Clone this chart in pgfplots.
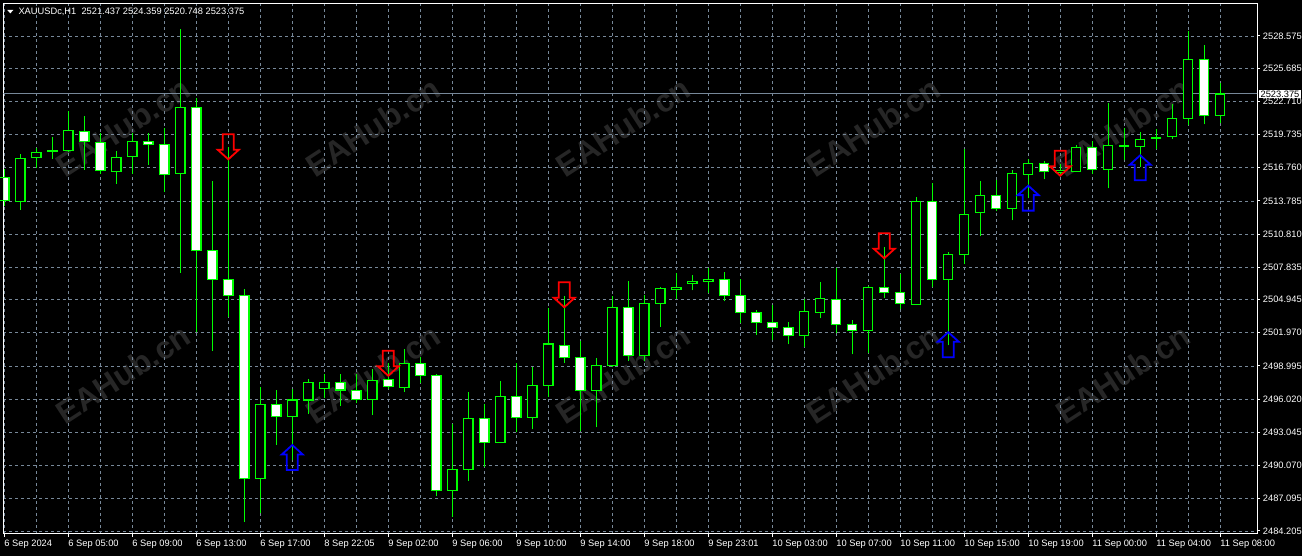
\documentclass[border=0pt]{standalone}
\usepackage{fontspec}
\setmainfont{Liberation Sans}
\usepackage{pgfplots}
\usepackage{pgfplotstable}
\pgfplotsset{compat=1.18}

\definecolor{cgreen}{HTML}{00FF00}
\definecolor{gridgray}{HTML}{778899}
\definecolor{wmark}{HTML}{262626}
\definecolor{sellred}{HTML}{FF0000}
\definecolor{buyblue}{HTML}{0000FF}
\newcommand{\tfont}{\fontsize{9.3}{11}\selectfont}

% hollow signal arrows, tip at the data point
\pgfdeclareplotmark{sellarrow}{%
  \pgfpathmoveto{\pgfqpoint{0pt}{0pt}}%
  \pgfpathlineto{\pgfqpoint{10.5pt}{9.5pt}}%
  \pgfpathlineto{\pgfqpoint{5.5pt}{9.5pt}}%
  \pgfpathlineto{\pgfqpoint{5.5pt}{25pt}}%
  \pgfpathlineto{\pgfqpoint{-5.5pt}{25pt}}%
  \pgfpathlineto{\pgfqpoint{-5.5pt}{9.5pt}}%
  \pgfpathlineto{\pgfqpoint{-10.5pt}{9.5pt}}%
  \pgfpathclose
  \pgfusepathqstroke}
\pgfdeclareplotmark{buyarrow}{%
  \pgfpathmoveto{\pgfqpoint{0pt}{0pt}}%
  \pgfpathlineto{\pgfqpoint{10.5pt}{-9.5pt}}%
  \pgfpathlineto{\pgfqpoint{5.5pt}{-9.5pt}}%
  \pgfpathlineto{\pgfqpoint{5.5pt}{-25pt}}%
  \pgfpathlineto{\pgfqpoint{-5.5pt}{-25pt}}%
  \pgfpathlineto{\pgfqpoint{-5.5pt}{-9.5pt}}%
  \pgfpathlineto{\pgfqpoint{-10.5pt}{-9.5pt}}%
  \pgfpathclose
  \pgfusepathqstroke}

% XAUUSDc H1 bars
\pgfplotstableread{
k O H L C
0 2515.91 2516.63 2513.36 2513.85
1 2513.72 2517.97 2513.00 2517.61
2 2517.70 2518.51 2516.72 2518.15
3 2518.24 2519.52 2517.58 2518.33
4 2518.29 2521.85 2518.22 2520.12
5 2520.03 2521.40 2516.59 2519.14
6 2519.05 2519.85 2516.23 2516.54
7 2516.41 2518.27 2515.34 2517.70
8 2517.79 2519.85 2516.23 2519.14
9 2519.14 2519.85 2517.04 2518.87
10 2518.87 2520.30 2514.62 2516.18
11 2516.27 2529.20 2507.36 2522.18
12 2522.18 2522.99 2502.07 2509.37
13 2509.37 2515.58 2500.37 2506.77
14 2506.77 2518.65 2503.41 2505.33
15 2505.33 2505.87 2485.04 2488.93
16 2488.93 2497.08 2485.79 2495.56
17 2495.56 2496.84 2491.91 2494.49
18 2494.49 2496.93 2490.57 2495.95
19 2495.95 2497.83 2494.69 2497.53
20 2497.00 2498.28 2496.15 2497.53
21 2497.53 2498.28 2495.44 2496.84
22 2496.82 2498.28 2495.65 2496.01
23 2496.01 2498.73 2494.60 2497.71
24 2497.80 2499.24 2496.91 2497.17
25 2497.08 2500.49 2496.69 2499.24
26 2499.24 2499.77 2497.44 2498.16
27 2498.16 2498.28 2487.37 2487.85
28 2487.85 2493.80 2485.49 2489.73
29 2489.73 2496.69 2488.71 2494.31
30 2494.31 2495.59 2489.91 2492.15
31 2492.15 2497.68 2492.07 2496.28
32 2496.28 2499.24 2493.05 2494.40
33 2494.40 2498.88 2493.32 2497.26
34 2497.26 2504.22 2496.24 2500.97
35 2500.85 2505.27 2499.24 2499.77
36 2499.77 2501.26 2493.14 2496.82
37 2496.82 2499.68 2493.50 2499.06
38 2499.06 2505.27 2498.93 2504.26
39 2504.26 2506.61 2499.42 2499.95
40 2499.95 2505.33 2499.42 2504.61
41 2504.61 2506.05 2502.52 2505.96
42 2505.87 2507.30 2505.03 2506.05
43 2506.41 2507.12 2505.78 2506.59
44 2506.59 2507.75 2505.51 2506.77
45 2506.77 2507.39 2504.79 2505.33
46 2505.33 2506.77 2502.82 2503.81
47 2503.81 2503.99 2501.75 2502.91
48 2502.91 2504.44 2501.30 2502.46
49 2502.46 2502.91 2500.94 2501.75
50 2501.75 2504.97 2500.67 2503.90
51 2503.81 2506.50 2503.27 2505.06
52 2504.97 2507.75 2501.93 2502.73
53 2502.73 2503.12 2500.04 2502.19
54 2502.19 2506.17 2500.13 2506.05
55 2506.05 2509.63 2505.12 2505.60
56 2505.56 2507.21 2504.08 2504.61
57 2504.53 2514.12 2504.44 2513.76
58 2513.76 2515.37 2506.05 2506.77
59 2506.77 2509.19 2500.85 2509.01
60 2509.01 2518.42 2508.11 2512.59
61 2512.77 2515.55 2510.62 2514.30
62 2514.30 2515.64 2512.86 2513.13
63 2513.13 2516.54 2512.05 2516.27
64 2516.18 2517.52 2514.03 2517.16
65 2517.16 2517.34 2515.73 2516.45
66 2516.36 2517.13 2516.09 2516.50
67 2516.45 2518.78 2516.40 2518.60
68 2518.60 2519.14 2516.18 2516.63
69 2516.63 2522.57 2514.92 2518.78
70 2518.69 2520.30 2517.43 2518.78
71 2518.69 2519.94 2516.81 2519.32
72 2519.41 2520.21 2518.42 2519.50
73 2519.58 2522.45 2519.32 2521.20
74 2521.20 2529.00 2520.57 2526.49
75 2526.49 2527.74 2520.66 2521.44
76 2521.437 2524.359 2520.748 2523.375
}\candles

% signal arrows (price at arrow tip)
\pgfplotstableread{
k P
14 2517.52
24 2498.12
35 2504.26
55 2508.65
66 2516.05
}\sells
\pgfplotstableread{
k P
18 2491.91
59 2502.02
64 2515.16
71 2517.88
}\buys

\begin{document}
\begin{tikzpicture}
\path[fill=black, use as bounding box] (0,0) rectangle (1302pt,556pt);

% watermark
\foreach \wx in {123,373,623,873,1123}{
  \foreach \wy in {429,182}{
    \node[rotate=33, text=wmark, font=\fontsize{32}{32}\selectfont\bfseries]
      at (\wx pt,\wy pt) {EAHub.cn};
  }
}

\begin{axis}[
  at={(3.3pt,22pt)}, anchor=south west,
  scale only axis, width=1254pt, height=530.7pt,
  xmin=-0.0625, xmax=78.3125,
  ymin=2483.934, ymax=2531.506,
  axis line style={white, line width=1pt},
  xtick={0,4,...,76},
  xticklabels={6 Sep 2024, 6 Sep 05:00, 6 Sep 09:00, 6 Sep 13:00, 6 Sep 17:00,
    8 Sep 22:05, 9 Sep 02:00, 9 Sep 06:00, 9 Sep 10:00, 9 Sep 14:00,
    9 Sep 18:00, 9 Sep 23:01, 10 Sep 03:00, 10 Sep 07:00, 10 Sep 11:00,
    10 Sep 15:00, 10 Sep 19:00, 11 Sep 00:00, 11 Sep 04:00, 11 Sep 08:00},
  minor xtick={2,6,...,74},
  ytick={2484.205,2487.095,2490.070,2493.045,2496.020,2498.995,2501.970,2504.945,
    2507.835,2510.810,2513.785,2516.760,2519.735,2522.710,2525.685,2528.575},
  yticklabels={2484.205,2487.095,2490.070,2493.045,2496.020,2498.995,2501.970,2504.945,
    2507.835,2510.810,2513.785,2516.760,2519.735,2522.710,2525.685,2528.575},
  xtick pos=left, xticklabel pos=left,
  ytick pos=right, yticklabel pos=right,
  tick align=outside,
  major tick length=3pt, minor tick length=0pt,
  tick style={white, line width=1pt},
  grid=major, xminorgrids=true,
  major grid style={gridgray, line width=0.9pt, dash pattern=on 3pt off 3pt},
  minor grid style={gridgray, line width=0.9pt, dash pattern=on 3pt off 3pt},
  xticklabel style={font=\tfont, text=white, anchor=base west, inner sep=0pt, yshift=-10pt},
  yticklabel style={font=\tfont, text=white, anchor=west, inner sep=0pt, xshift=2.5pt},
]
% current price line
\addplot[gridgray, line width=1pt, mark=none] coordinates {(-1,2523.375) (80,2523.375)};

% wicks
\addplot[draw=none, mark=none, error bars/.cd, y dir=plus, y explicit, error mark=none,
  error bar style={draw=cgreen, line width=1.2pt}]
  table[x=k, y=L, y error plus expr={\thisrow{H}-\thisrow{L}}] {\candles};
% body outline
\addplot[draw=none, mark=none, error bars/.cd, y dir=plus, y explicit, error mark=none,
  error bar style={draw=cgreen, line width=10.5pt}]
  table[x=k, y expr={min(\thisrow{O},\thisrow{C})},
    y error plus expr={abs(\thisrow{C}-\thisrow{O})}] {\candles};
% bull bodies (black)
\addplot[draw=none, mark=none, error bars/.cd, y dir=plus, y explicit, error mark=none,
  error bar style={draw=black, line width=7.9pt}]
  table[x=k, y=O, y error plus expr={max(\thisrow{C}-\thisrow{O},0)}] {\candles};
% bear bodies (white)
\addplot[draw=none, mark=none, error bars/.cd, y dir=plus, y explicit, error mark=none,
  error bar style={draw=white, line width=7.9pt}]
  table[x=k, y=C, y error plus expr={max(\thisrow{O}-\thisrow{C},0)}] {\candles};
% top and bottom edges of bodies
\addplot[only marks, mark=-, mark size=5.25pt, mark options={draw=cgreen, line width=1.3pt}]
  table[x=k, y=O] {\candles};
\addplot[only marks, mark=-, mark size=5.25pt, mark options={draw=cgreen, line width=1.3pt}]
  table[x=k, y=C] {\candles};

% signals
\addplot[only marks, mark=sellarrow, mark options={draw=sellred, line width=1.8pt}]
  table[x=k, y=P] {\sells};
\addplot[only marks, mark=buyarrow, mark options={draw=buyblue, line width=1.8pt}]
  table[x=k, y=P] {\buys};

\coordinate (cp) at (axis cs:78.3125,2523.375);
\end{axis}

% price tag on the scale
\node[anchor=west, fill=white, text=black, inner xsep=1.5pt, inner ysep=1pt, font=\tfont]
  at ([xshift=1.7pt]cp) {2523.375};

% header
\fill[white] (7.3pt,546pt) -- (13.3pt,546pt) -- (10.3pt,542.6pt) -- cycle;
\node[anchor=base west, inner sep=0pt, text=white, font=\tfont] at (18.3pt,541pt)
  {XAUUSDc,H1\ \ 2521.437 2524.359 2520.748 2523.375};
\end{tikzpicture}
\end{document}
